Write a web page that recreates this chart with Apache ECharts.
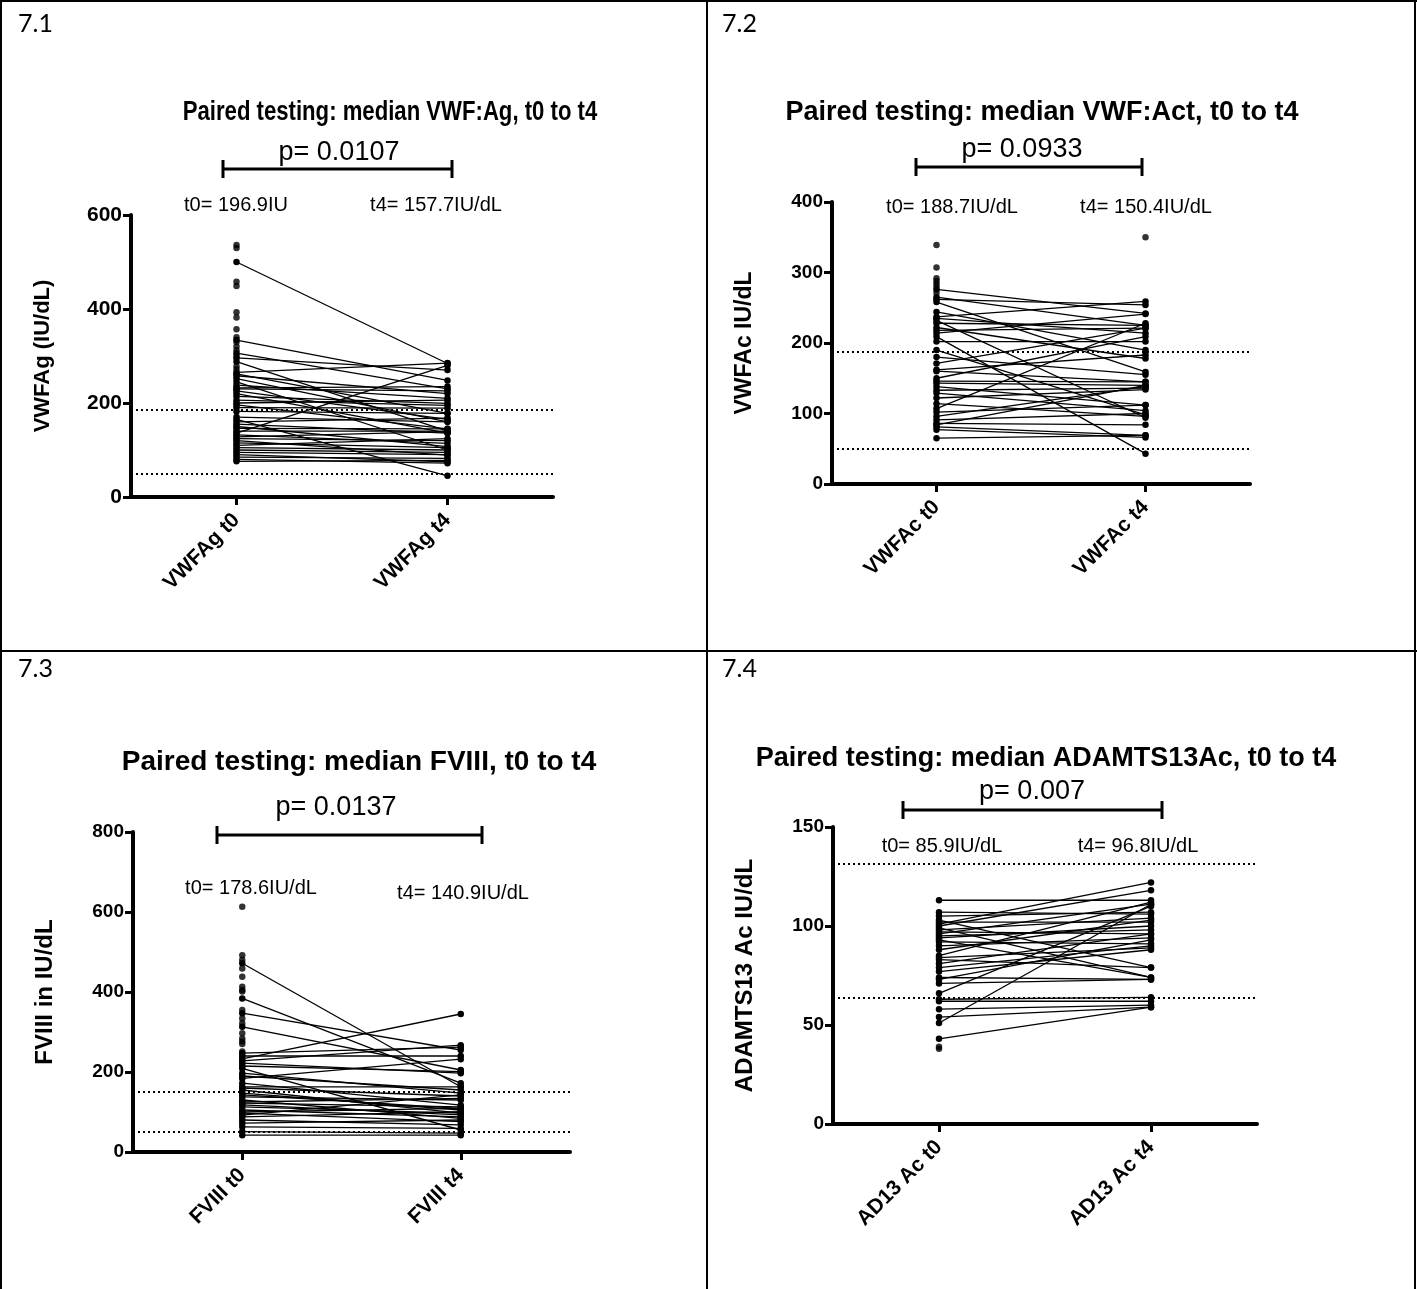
<!DOCTYPE html>
<html><head><meta charset="utf-8">
<script src="https://cdn.jsdelivr.net/npm/echarts@6/dist/echarts.min.js"></script>
<style>html,body{margin:0;padding:0;background:#fff}#c{width:1417px;height:1289px}</style>
</head><body><div id="c"></div>
<script>
// ---------- DATA ----------
// 7.1 VWF:Ag
const agCats = ['VWFAg t0', 'VWFAg t4'];
const agT0 = [500,334,306,296,288,265,262,258,252,245,238,232,226,220,214,206,200,196,190,182,170,165,160,155,150,146,140,136,132,128,124,120,115,110,105,100,95,90,85,80,76,230];
const agT4 = [284,248,230,270,140,285,178,220,160,100,210,235,165,136,199,195,206,145,189,178,160,45,168,136,107,145,140,280,114,139,120,89,105,124,100,95,90,75,82,72,78,226];
const agT0Only = [536,530,458,449,393,382,357,340,330,320,312,300,278,272];
const agT4Only = [];
const agTicks = [0,200,400,600];
const agRefs = [186,50];
// 7.2 VWF:Act
const acCats = ['VWFAc t0', 'VWFAc t4'];
const acT0 = [276,265,262,258,237,235,232,228,218,214,209,202,190,180,171,162,160,146,143,138,133,122,114,107,102,96,86,84,81,77,65,91,129,150,244,222];
const acT4 = [242,225,254,159,259,214,94,225,221,241,43,202,98,155,221,183,145,145,140,112,136,134,96,228,112,138,84,140,69,66,69,100,104,209,190,178];
const acT0Only = [339,307,292,288,284,280,271];
const acT4Only = [350];
const acTicks = [0,100,200,300,400];
const acRefs = [187,50];
// 7.3 FVIII
const f8Cats = ['FVIII t0', 'FVIII t4'];
const f8T0 = [472,384,347,313,233,247,240,222,209,197,184,172,163,155,147,138,130,122,113,105,97,88,80,72,63,51,42,215,228,160,143,118,100,92,190,125];
const f8T4 = [163,172,255,205,345,262,240,197,55,147,232,117,163,97,105,130,84,113,97,88,76,101,68,80,59,47,42,201,267,140,109,93,109,143,155,134];
const f8T0Only = [613,492,480,459,438,413,405,401,355,334,322,297,284,276,270,251];
const f8T4Only = [];
const f8Ticks = [0,200,400,600,800];
const f8Refs = [150,50];
// 7.4 ADAMTS13
const adCats = ['AD13 Ac t0', 'AD13 Ac t4'];
const adT0 = [113,107,101,103,100,99,96,95,93,90,88,85,83,81,79,77,74,73,71,66,63,62,58,54,51,43,102,97,92,98,94,84,105];
const adT4 = [113,106,122,79,118,74,111,98,74,94,103,112,79,96,90,88,73,93,73,110,64,62,60,59,111,59,102,96,91,104,100,89,107];
const adT0Only = [39,38];
const adT4Only = [];
const adTicks = [0,50,100,150];
const adRefs = [131.5,64];

// ---------- TEXTS ----------
const panelLabels = ['7.1','7.2','7.3','7.4'];
const titles = ['Paired testing: median VWF:Ag, t0 to t4','Paired testing: median VWF:Act, t0 to t4','Paired testing: median FVIII, t0 to t4','Paired testing: median ADAMTS13Ac, t0 to t4'];
const pTexts = ['p= 0.0107','p= 0.0933','p= 0.0137','p= 0.007'];
const med0 = ['t0= 196.9IU','t0= 188.7IU/dL','t0= 178.6IU/dL','t0= 85.9IU/dL'];
const med4 = ['t4= 157.7IU/dL','t4= 150.4IU/dL','t4= 140.9IU/dL','t4= 96.8IU/dL'];
const yNames = ['VWFAg (IU/dL)','VWFAc IU/dL','FVIII in IU/dL','ADAMTS13 Ac IU/dL'];

// ---------- LAYOUT ----------
const FONT = '"Liberation Sans", Arial, Helvetica, sans-serif';
const layout = [
  {grid:{left:131,top:215,width:422,height:282}, label:[18,24], title:[390,113,27,0.82], p:[339,153], br:[223,452,169], m0:[236,205], m4:[436,205], nameSize:22, nameGap:77, tickSize:21},
  {grid:{left:832,top:202,width:418,height:282}, label:[722,24], title:[1042,113,27,1], p:[1022,150], br:[916,1142,167], m0:[952,207], m4:[1146,207], nameSize:23, nameGap:76, tickSize:19},
  {grid:{left:133,top:832,width:437,height:320}, label:[18,669], title:[359,762,28,1], p:[336,808], br:[217,482,835], m0:[251,888], m4:[463,893], nameSize:24, nameGap:76, tickSize:19},
  {grid:{left:833,top:827,width:424,height:297}, label:[722,669], title:[1046,759,27,1], p:[1032,792], br:[903,1162,810], m0:[942,846], m4:[1138,846], nameSize:24, nameGap:76, tickSize:19}
];

const panels = [
  {cats:agCats,t0:agT0,t4:agT4,t0Only:agT0Only,t4Only:agT4Only,ticks:agTicks,refs:agRefs},
  {cats:acCats,t0:acT0,t4:acT4,t0Only:acT0Only,t4Only:acT4Only,ticks:acTicks,refs:acRefs},
  {cats:f8Cats,t0:f8T0,t4:f8T4,t0Only:f8T0Only,t4Only:f8T4Only,ticks:f8Ticks,refs:f8Refs},
  {cats:adCats,t0:adT0,t4:adT4,t0Only:adT0Only,t4Only:adT4Only,ticks:adTicks,refs:adRefs}
];

const grids = [], xAxes = [], yAxes = [], series = [], graphic = [];

panels.forEach((P, k) => {
  const L = layout[k];
  grids.push(Object.assign({containLabel:false}, L.grid));
  xAxes.push({
    type:'category', gridIndex:k, data:P.cats, boundaryGap:true,
    axisLine:{show:true, lineStyle:{color:'#000', width:4}},
    axisTick:{show:true, alignWithLabel:true, length:8, lineStyle:{color:'#000', width:3}},
    axisLabel:{interval:0, rotate:45, color:'#000', fontWeight:'bold', fontSize:21, fontFamily:FONT, margin:20},
    splitLine:{show:false}
  });
  yAxes.push({
    type:'value', gridIndex:k, min:P.ticks[0], max:P.ticks[P.ticks.length-1], interval:P.ticks[1]-P.ticks[0],
    axisLine:{show:true, lineStyle:{color:'#000', width:4}},
    axisTick:{show:true, length:8, lineStyle:{color:'#000', width:3}},
    axisLabel:{color:'#000', fontWeight:'bold', fontSize:L.tickSize, fontFamily:FONT, margin:9},
    splitLine:{show:false},
    name:yNames[k], nameLocation:'middle', nameRotate:90, nameGap:L.nameGap,
    nameTextStyle:{color:'#000', fontWeight:'bold', fontSize:L.nameSize, fontFamily:FONT}
  });
  P.t0.forEach((v, i) => {
    series.push({
      type:'line', xAxisIndex:k, yAxisIndex:k, data:[v, P.t4[i]],
      symbol:'circle', symbolSize:6.5, showSymbol:true, silent:true, z:3,
      lineStyle:{color:'#000', width:1.3}, itemStyle:{color:'#000'}
    });
  });
  series.push({
    type:'scatter', xAxisIndex:k, yAxisIndex:k, silent:true, z:3,
    data: P.t0Only.map(v => [0, v]).concat(P.t4Only.map(v => [1, v])),
    symbol:'circle', symbolSize:6.5, itemStyle:{color:'#000'},
    markLine:{silent:true, symbol:['none','none'], label:{show:false},
      lineStyle:{color:'#000', width:2, type:[2,3]},
      data:P.refs.map(r => ({yAxis:r}))}
  });

  // header texts
  graphic.push({type:'text', x:L.label[0], y:L.label[1], style:{text:panelLabels[k], font:'25px Lato, "Open Sans", sans-serif', fill:'#000', textAlign:'left', textVerticalAlign:'middle'}});
  graphic.push({type:'text', x:L.title[0], y:L.title[1], scaleX:L.title[3], style:{text:titles[k], font:'bold '+L.title[2]+'px '+FONT, fill:'#000', textAlign:'center', textVerticalAlign:'middle'}});
  graphic.push({type:'text', x:L.p[0], y:L.p[1], style:{text:pTexts[k], font:'27px '+FONT, fill:'#000', textAlign:'center', textVerticalAlign:'middle'}});
  graphic.push({type:'text', x:L.m0[0], y:L.m0[1], style:{text:med0[k], font:'20px '+FONT, fill:'#000', textAlign:'center', textVerticalAlign:'middle'}});
  graphic.push({type:'text', x:L.m4[0], y:L.m4[1], style:{text:med4[k], font:'20px '+FONT, fill:'#000', textAlign:'center', textVerticalAlign:'middle'}});
  const [bx1, bx2, by] = L.br;
  graphic.push({type:'line', shape:{x1:bx1, y1:by, x2:bx2, y2:by}, style:{stroke:'#000', lineWidth:3}});
  graphic.push({type:'line', shape:{x1:bx1, y1:by-9, x2:bx1, y2:by+9}, style:{stroke:'#000', lineWidth:3}});
  graphic.push({type:'line', shape:{x1:bx2, y1:by-9, x2:bx2, y2:by+9}, style:{stroke:'#000', lineWidth:3}});
});

// table borders
[[1,0,1,1289],[707,0,707,1289],[1415,0,1415,1289],[0,1,1417,1],[0,651,1417,651]].forEach(s => {
  graphic.push({type:'line', shape:{x1:s[0], y1:s[1], x2:s[2], y2:s[3]}, style:{stroke:'#000', lineWidth:2}});
});

const chart = echarts.init(document.getElementById('c'), null, {renderer:'canvas'});
chart.setOption({
  animation:false,
  backgroundColor:'#fff',
  grid:grids, xAxis:xAxes, yAxis:yAxes, series:series, graphic:graphic,
  tooltip:{show:false}
});
</script></body></html>
